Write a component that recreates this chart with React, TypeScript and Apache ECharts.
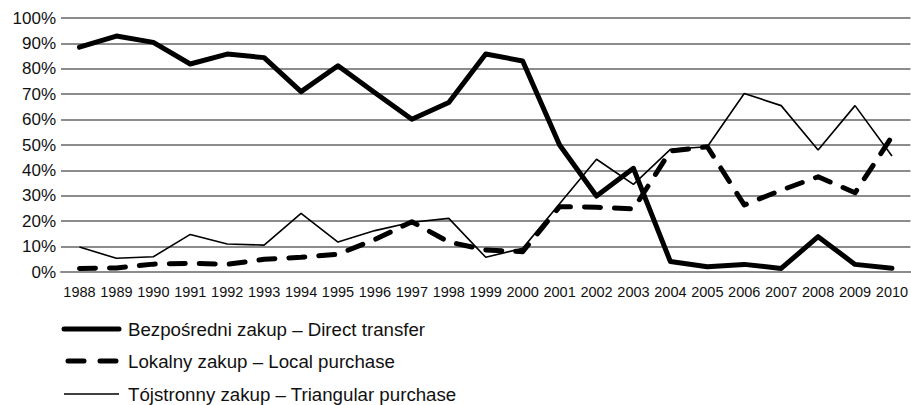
import React, { useEffect, useRef } from "react";
import * as echarts from "echarts";

const years = ["1988","1989","1990","1991","1992","1993","1994","1995","1996","1997","1998","1999","2000","2001","2002","2003","2004","2005","2006","2007","2008","2009","2010"];
const directTransfer = [88.5, 92.9, 90.4, 81.9, 85.8, 84.4, 71.0, 81.2, 70.6, 60.1, 66.7, 85.8, 83.1, 50.0, 29.9, 40.8, 4.1, 2.1, 3.0, 1.4, 13.9, 3.0, 1.5];
const localPurchase = [1.4, 1.6, 3.1, 3.4, 3.0, 5.0, 5.8, 7.0, 12.8, 19.8, 11.8, 8.7, 8.0, 25.7, 25.5, 24.8, 47.6, 49.3, 26.4, 32.2, 37.5, 31.2, 53.3];
const triangularPurchase = [9.8, 5.4, 6.0, 14.8, 11.0, 10.6, 23.1, 11.8, 16.3, 19.6, 21.1, 5.8, 9.3, 26.9, 44.4, 34.5, 48.3, 49.3, 70.3, 65.5, 48.0, 65.5, 45.7];
const seriesNames = [
  "Bezpośredni zakup – Direct transfer",
  "Lokalny zakup – Local purchase",
  "Tójstronny zakup – Triangular purchase",
];

const FONT = "'Liberation Sans', Arial, sans-serif";

const lineStyles = [
  { color: "#000", width: 5, cap: "round", join: "round" },
  { color: "#000", width: 5, type: [16, 14], cap: "round", join: "round" },
  { color: "#000", width: 1.6 },
];

export default function App() {
  const ref = useRef<HTMLDivElement>(null);
  useEffect(() => {
    if (!ref.current) return;
    const chart = echarts.init(ref.current, undefined, { renderer: "svg" });
    const legendRows = [329, 361, 394];
    const legendGraphics: any[] = [];
    seriesNames.forEach((name, i) => {
      const ls: any = lineStyles[i];
      legendGraphics.push({
        type: "line",
        shape: { x1: i === 1 ? 68 : 64, y1: legendRows[i], x2: i === 1 ? 116 : 119, y2: legendRows[i] },
        style: {
          stroke: ls.color,
          lineWidth: ls.width,
          lineDash: ls.type ? [16, 16] : null,
          lineCap: ls.cap || "butt",
        },
      });
      legendGraphics.push({
        type: "text",
        x: 128,
        y: legendRows[i],
        style: {
          text: name,
          fontSize: 18.7,
          fontFamily: FONT,
          fill: "#111",
          verticalAlign: "middle",
          align: "left",
        },
      });
    });
    chart.setOption({
      animation: false,
      textStyle: { fontFamily: FONT },
      grid: { left: 61, right: -4, top: 18, bottom: 133, containLabel: false },
      xAxis: {
        type: "category",
        data: years,
        boundaryGap: true,
        axisLine: { show: true, lineStyle: { color: "#8c8c8c", width: 2 } },
        axisTick: { show: false },
        axisLabel: { interval: 0, color: "#111", fontSize: 14.5, margin: 12, fontFamily: FONT },
      },
      yAxis: {
        type: "value",
        min: 0,
        max: 100,
        interval: 10,
        axisLine: { show: false },
        axisTick: { show: false },
        axisLabel: { formatter: "{value}%", color: "#111", fontSize: 17, margin: 5, fontFamily: FONT },
        splitLine: { show: true, lineStyle: { color: "#8c8c8c", width: 2 } },
      },
      graphic: legendGraphics,
      series: [
        {
          name: seriesNames[0],
          type: "line",
          data: directTransfer,
          symbol: "none",
          lineStyle: lineStyles[0],
          itemStyle: { color: "#000" },
          z: 3,
        },
        {
          name: seriesNames[1],
          type: "line",
          data: localPurchase,
          symbol: "none",
          lineStyle: lineStyles[1],
          itemStyle: { color: "#000" },
          z: 2,
        },
        {
          name: seriesNames[2],
          type: "line",
          data: triangularPurchase,
          symbol: "none",
          lineStyle: lineStyles[2],
          itemStyle: { color: "#000" },
          z: 1,
        },
      ],
    });
    return () => chart.dispose();
  }, []);
  return (
    <div
      ref={ref}
      style={{ position: "fixed", left: 0, top: 0, width: 911, height: 405, background: "#fff" }}
    />
  );
}
